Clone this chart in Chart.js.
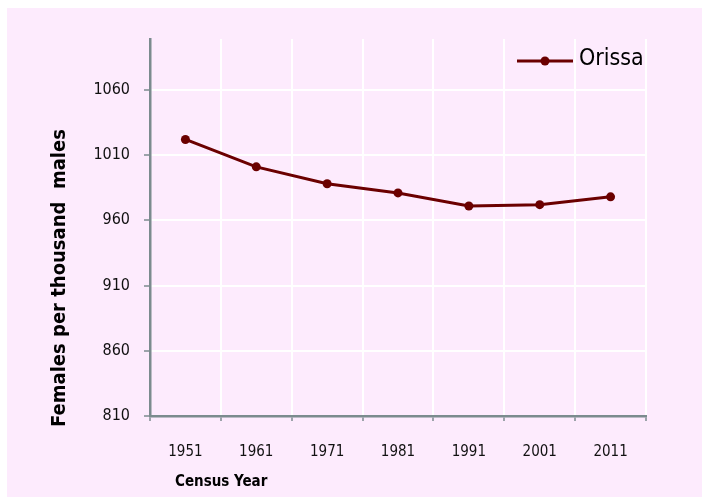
<!DOCTYPE html>
<html>
<head>
<meta charset="utf-8">
<script src="https://cdn.jsdelivr.net/npm/chart.js@4.4.1/dist/chart.umd.min.js"></script>
<style>
  html, body { margin: 0; padding: 0; background: #ffffff; }
  #wrap { width: 702px; height: 497px; }
</style>
</head>
<body>
<div id="wrap"><canvas id="mainChart" width="702" height="497"></canvas></div>
<script>
const years = ["1951", "1961", "1971", "1981", "1991", "2001", "2011"];
const orissa = [1022, 1001, 988, 981, 971, 972, 978];
const yTicks = [810, 860, 910, 960, 1010, 1060];
const seriesName = "Orissa";
const xTitle = "Census Year";
const yTitle = "Females per thousand  males";

const FONT = "'Liberation Sans Narrow', 'DejaVu Sans Condensed', 'Open Sans', sans-serif";
const LINE = "#6b0000";
const AXIS = "#7b8b8e";
const BG = "#fdebfd";

// pink panel, axis titles and the legend inside the plot
const decor = {
    id: "decor",
    beforeDraw(chart) {
        const ctx = chart.ctx;
        ctx.save();
        ctx.fillStyle = BG;
        ctx.fillRect(7, 8, chart.width - 7, chart.height - 8);
        ctx.restore();
    },
    afterDraw(chart) {
        const ctx = chart.ctx;
        const area = chart.chartArea;
        ctx.save();
        ctx.fillStyle = "#000";
        ctx.font = "bold 15px " + FONT;
        ctx.textBaseline = "middle";
        ctx.textAlign = "left";
        ctx.fillText(xTitle, 175, 482);

        // legend: line + dot + label, top right of plot
        const ds = chart.data.datasets[0];
        const ly = area.top + 22;
        const lx = area.right - 129;
        ctx.strokeStyle = ds.borderColor;
        ctx.lineWidth = 3;
        ctx.beginPath();
        ctx.moveTo(lx, ly);
        ctx.lineTo(lx + 56, ly);
        ctx.stroke();
        ctx.fillStyle = ds.borderColor;
        ctx.beginPath();
        ctx.arc(lx + 28, ly, 4.5, 0, Math.PI * 2);
        ctx.fill();
        ctx.fillStyle = "#000";
        ctx.font = "23px " + FONT;
        ctx.fillText(ds.label, lx + 62, ly - 2);

        ctx.translate(60, 278);
        ctx.rotate(-Math.PI / 2);
        ctx.textAlign = "center";
        ctx.font = "bold 20px " + FONT;
        ctx.fillText(yTitle, 0, 0);
        ctx.restore();
    }
};

const ctx = document.getElementById("mainChart").getContext("2d");
new Chart(ctx, {
    type: "line",
    data: {
        labels: years,
        datasets: [{
            label: seriesName,
            data: orissa,
            borderColor: LINE,
            backgroundColor: LINE,
            borderWidth: 3,
            pointRadius: 4.5,
            pointHoverRadius: 4.5,
            pointBackgroundColor: LINE,
            pointBorderWidth: 0,
            tension: 0
        }]
    },
    options: {
        responsive: false,
        animation: false,
        layout: { padding: { top: 39, right: 56, left: 0, bottom: 0 } },
        plugins: {
            tooltip: { enabled: false },
            legend: { display: false }
        },
        scales: {
            x: {
                offset: true,
                afterFit: s => { s.height = 81; },
                grid: {
                    offset: true,
                    color: "#ffffff",
                    lineWidth: 2,
                    tickColor: AXIS,
                    tickLength: 5,
                    tickWidth: 1.5
                },
                border: { color: AXIS, width: 2.5 },
                ticks: { color: "#111", padding: 22, font: { family: FONT, size: 15 } }
            },
            y: {
                min: 810,
                max: 1099,
                afterFit: s => { s.width = 150; },
                afterBuildTicks: s => { s.ticks = yTicks.map(v => ({ value: v })); },
                grid: {
                    color: "#ffffff",
                    lineWidth: 2,
                    tickColor: AXIS,
                    tickLength: 6,
                    tickWidth: 1.5
                },
                border: { color: AXIS, width: 2.5 },
                ticks: {
                    color: "#111",
                    padding: 14,
                    font: { family: FONT, size: 16 },
                    callback: v => String(v)
                }
            }
        }
    },
    plugins: [decor]
});
</script>
</body>
</html>
